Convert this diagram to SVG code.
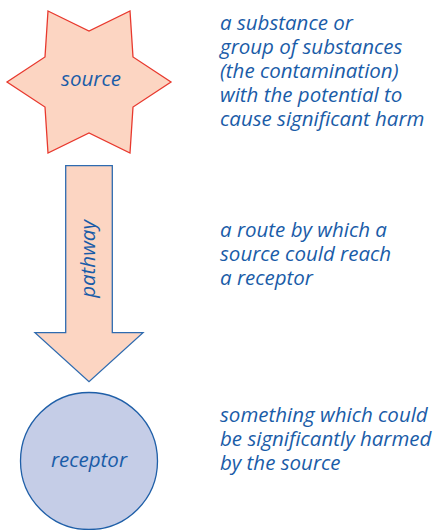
<svg xmlns="http://www.w3.org/2000/svg" width="443" height="530" viewBox="0 0 443 530">
<style>
text { font-family: "Open Sans", "Noto Sans", "DejaVu Sans", sans-serif; font-style: italic; fill: #1a5ca8; font-size: 20.5px; }
.c { text-anchor: middle; font-size: 20.5px; }
</style>
<rect width="443" height="530" fill="#ffffff"/>
<g id="source">
<polygon points="48,11 89,31 130,11 133,57 171,82 133,107 130,153 89,133 48,153 45,107 7,82 45,57" fill="#fcd5c2" stroke="#e8392e" stroke-width="1.3" stroke-linejoin="miter"/>
<text class="c" x="91" y="86">source</text>
</g>
<g id="connectors">
<g id="pathway">
<polygon points="65.7,165.7 112.3,165.7 112.3,332.7 143,332.7 89,381.7 35,332.7 65.7,332.7" fill="#fcd5c2" stroke="#2e6bb0" stroke-width="1.3"/>
<text class="c" transform="translate(95,259) rotate(-90)" x="0" y="0">pathway</text>
</g>
</g>
<g id="receptor">
<circle cx="89" cy="461" r="68.5" fill="#c5cde7" stroke="#1f5fa8" stroke-width="1.3"/>
<text class="c" x="89" y="467">receptor</text>
</g>
<g id="desc-source">
<text x="220" y="30">a substance or</text>
<text x="220" y="54">group of substances</text>
<text x="220" y="78">(the contamination)</text>
<text x="220" y="102">with the potential to</text>
<text x="220" y="126">cause significant harm</text>
</g>
<g id="desc-pathway">
<text x="220" y="237">a route by which a</text>
<text x="220" y="261">source could reach</text>
<text x="220" y="285">a receptor</text>
</g>
<g id="desc-receptor">
<text x="220" y="422">something which could</text>
<text x="220" y="446">be significantly harmed</text>
<text x="220" y="470">by the source</text>
</g>
</svg>
